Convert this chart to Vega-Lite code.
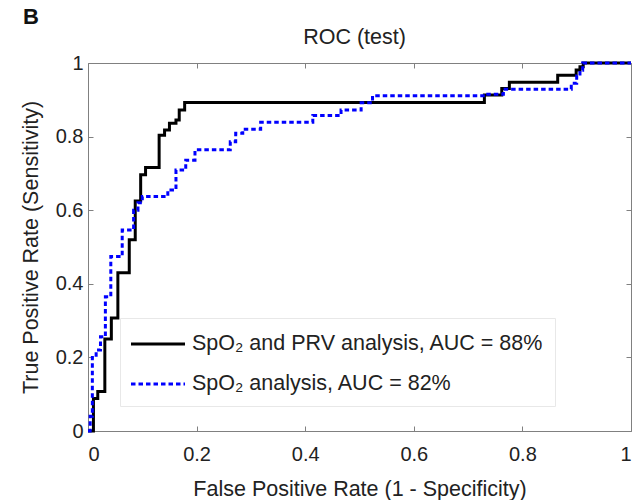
{
  "$schema": "https://vega.github.io/schema/vega-lite/v6.json",
  "autosize": {"type": "none"},
  "padding": {"left": 88, "top": 63, "right": 4, "bottom": 69},
  "width": 543,
  "height": 368,
  "background": "white",
  "title": {"text": "B", "anchor": "start", "frame": "group", "dx": -65, "dy": 6, "fontSize": 22, "fontWeight": "bold", "font": "Liberation Sans", "color": "#111"},
  "data": {"values": [
    {"series": "SpO₂ and PRV analysis, AUC = 88%", "fpr": 0, "tpr": 0},
    {"series": "SpO₂ and PRV analysis, AUC = 88%", "fpr": 0.010, "tpr": 0.088},
    {"series": "SpO₂ and PRV analysis, AUC = 88%", "fpr": 0.018, "tpr": 0.107},
    {"series": "SpO₂ and PRV analysis, AUC = 88%", "fpr": 0.031, "tpr": 0.25},
    {"series": "SpO₂ and PRV analysis, AUC = 88%", "fpr": 0.043, "tpr": 0.307},
    {"series": "SpO₂ and PRV analysis, AUC = 88%", "fpr": 0.055, "tpr": 0.43},
    {"series": "SpO₂ and PRV analysis, AUC = 88%", "fpr": 0.076, "tpr": 0.52},
    {"series": "SpO₂ and PRV analysis, AUC = 88%", "fpr": 0.087, "tpr": 0.625},
    {"series": "SpO₂ and PRV analysis, AUC = 88%", "fpr": 0.097, "tpr": 0.696},
    {"series": "SpO₂ and PRV analysis, AUC = 88%", "fpr": 0.106, "tpr": 0.716},
    {"series": "SpO₂ and PRV analysis, AUC = 88%", "fpr": 0.131, "tpr": 0.804},
    {"series": "SpO₂ and PRV analysis, AUC = 88%", "fpr": 0.141, "tpr": 0.818},
    {"series": "SpO₂ and PRV analysis, AUC = 88%", "fpr": 0.150, "tpr": 0.836},
    {"series": "SpO₂ and PRV analysis, AUC = 88%", "fpr": 0.162, "tpr": 0.845},
    {"series": "SpO₂ and PRV analysis, AUC = 88%", "fpr": 0.168, "tpr": 0.872},
    {"series": "SpO₂ and PRV analysis, AUC = 88%", "fpr": 0.178, "tpr": 0.893},
    {"series": "SpO₂ and PRV analysis, AUC = 88%", "fpr": 0.730, "tpr": 0.913},
    {"series": "SpO₂ and PRV analysis, AUC = 88%", "fpr": 0.762, "tpr": 0.931},
    {"series": "SpO₂ and PRV analysis, AUC = 88%", "fpr": 0.776, "tpr": 0.948},
    {"series": "SpO₂ and PRV analysis, AUC = 88%", "fpr": 0.865, "tpr": 0.967},
    {"series": "SpO₂ and PRV analysis, AUC = 88%", "fpr": 0.899, "tpr": 0.981},
    {"series": "SpO₂ and PRV analysis, AUC = 88%", "fpr": 0.906, "tpr": 0.99},
    {"series": "SpO₂ and PRV analysis, AUC = 88%", "fpr": 0.912, "tpr": 1.0},
    {"series": "SpO₂ and PRV analysis, AUC = 88%", "fpr": 1.0, "tpr": 1.0},
    {"series": "SpO₂ analysis, AUC = 82%", "fpr": 0, "tpr": 0},
    {"series": "SpO₂ analysis, AUC = 82%", "fpr": 0.004, "tpr": 0.04},
    {"series": "SpO₂ analysis, AUC = 82%", "fpr": 0.008, "tpr": 0.2},
    {"series": "SpO₂ analysis, AUC = 82%", "fpr": 0.015, "tpr": 0.22},
    {"series": "SpO₂ analysis, AUC = 82%", "fpr": 0.023, "tpr": 0.256},
    {"series": "SpO₂ analysis, AUC = 82%", "fpr": 0.032, "tpr": 0.365},
    {"series": "SpO₂ analysis, AUC = 82%", "fpr": 0.042, "tpr": 0.474},
    {"series": "SpO₂ analysis, AUC = 82%", "fpr": 0.063, "tpr": 0.546},
    {"series": "SpO₂ analysis, AUC = 82%", "fpr": 0.084, "tpr": 0.60},
    {"series": "SpO₂ analysis, AUC = 82%", "fpr": 0.092, "tpr": 0.62},
    {"series": "SpO₂ analysis, AUC = 82%", "fpr": 0.100, "tpr": 0.637},
    {"series": "SpO₂ analysis, AUC = 82%", "fpr": 0.147, "tpr": 0.655},
    {"series": "SpO₂ analysis, AUC = 82%", "fpr": 0.162, "tpr": 0.709},
    {"series": "SpO₂ analysis, AUC = 82%", "fpr": 0.180, "tpr": 0.736},
    {"series": "SpO₂ analysis, AUC = 82%", "fpr": 0.197, "tpr": 0.764},
    {"series": "SpO₂ analysis, AUC = 82%", "fpr": 0.262, "tpr": 0.786},
    {"series": "SpO₂ analysis, AUC = 82%", "fpr": 0.272, "tpr": 0.809},
    {"series": "SpO₂ analysis, AUC = 82%", "fpr": 0.285, "tpr": 0.82},
    {"series": "SpO₂ analysis, AUC = 82%", "fpr": 0.318, "tpr": 0.839},
    {"series": "SpO₂ analysis, AUC = 82%", "fpr": 0.414, "tpr": 0.857},
    {"series": "SpO₂ analysis, AUC = 82%", "fpr": 0.466, "tpr": 0.872},
    {"series": "SpO₂ analysis, AUC = 82%", "fpr": 0.503, "tpr": 0.892},
    {"series": "SpO₂ analysis, AUC = 82%", "fpr": 0.524, "tpr": 0.911},
    {"series": "SpO₂ analysis, AUC = 82%", "fpr": 0.733, "tpr": 0.915},
    {"series": "SpO₂ analysis, AUC = 82%", "fpr": 0.765, "tpr": 0.929},
    {"series": "SpO₂ analysis, AUC = 82%", "fpr": 0.890, "tpr": 0.945},
    {"series": "SpO₂ analysis, AUC = 82%", "fpr": 0.900, "tpr": 0.965},
    {"series": "SpO₂ analysis, AUC = 82%", "fpr": 0.906, "tpr": 0.98},
    {"series": "SpO₂ analysis, AUC = 82%", "fpr": 0.911, "tpr": 1.0},
    {"series": "SpO₂ analysis, AUC = 82%", "fpr": 1.0, "tpr": 1.0}
  ]},
  "encoding": {
    "color": {"field": "series", "type": "nominal", "scale": {"domain": ["SpO₂ and PRV analysis, AUC = 88%", "SpO₂ analysis, AUC = 82%"], "range": ["#000000", "#0000ff"]},
      "legend": {"orient": "none", "legendX": 32, "legendY": 255, "title": null, "fillColor": "white", "strokeColor": "#e8e8e8", "padding": 11, "symbolType": "M-2,0H2", "symbolSize": 729, "symbolStrokeWidth": 3, "symbolOffset": 12, "labelFontSize": 21.5, "labelFont": "Liberation Sans", "labelColor": "#222", "labelLimit": 0, "labelOffset": 19, "rowPadding": 14}},
    "strokeDash": {"field": "series", "type": "nominal", "scale": {"domain": ["SpO₂ and PRV analysis, AUC = 88%", "SpO₂ analysis, AUC = 82%"], "range": [[1, 0], [4.5, 3]]},
      "legend": {"orient": "none", "legendX": 32, "legendY": 255, "title": null}}
  },
  "layer": [
    {
      "transform": [{"filter": "datum.series == 'SpO₂ and PRV analysis, AUC = 88%'"}],
      "mark": {"type": "line", "interpolate": "step-after", "strokeWidth": 3, "clip": false},
      "encoding": {
        "x": {"field": "fpr", "type": "quantitative", "scale": {"domain": [0, 1], "nice": false},
          "axis": {"orient": "bottom", "values": [0, 0.2, 0.4, 0.6, 0.8, 1], "format": "~g", "title": "False Positive Rate (1 - Specificity)", "labelPadding": 18, "titlePadding": 14}},
        "y": {"field": "tpr", "type": "quantitative", "scale": {"domain": [0, 1], "nice": false},
          "axis": {"orient": "left", "values": [0, 0.2, 0.4, 0.6, 0.8, 1], "format": "~g", "title": "True Positive Rate (Sensitivity)", "labelPadding": 10, "titlePadding": 13}}
      }
    },
    {
      "transform": [{"filter": "datum.series == 'SpO₂ analysis, AUC = 82%'"}],
      "mark": {"type": "line", "interpolate": "step-after", "strokeWidth": 3, "clip": false},
      "encoding": {
        "x": {"field": "fpr", "type": "quantitative",
          "axis": {"orient": "top", "values": [0, 0.2, 0.4, 0.6, 0.8, 1], "labels": false, "title": "ROC (test)", "titlePadding": 14, "titleX": 266}},
        "y": {"field": "tpr", "type": "quantitative",
          "axis": {"orient": "right", "values": [0, 0.2, 0.4, 0.6, 0.8, 1], "labels": false, "title": null}}
      }
    }
  ],
  "resolve": {"axis": {"x": "independent", "y": "independent"}},
  "config": {
    "view": {"stroke": null},
    "font": "Liberation Sans",
    "axis": {"grid": false, "domainColor": "#808080", "tickColor": "#808080", "domainWidth": 1, "tickWidth": 1, "tickSize": -5,
      "labelFont": "Liberation Sans", "labelFontSize": 20, "labelColor": "#222",
      "titleFont": "Liberation Sans", "titleFontSize": 21.5, "titleFontWeight": "normal", "titleColor": "#222"}
  }
}
